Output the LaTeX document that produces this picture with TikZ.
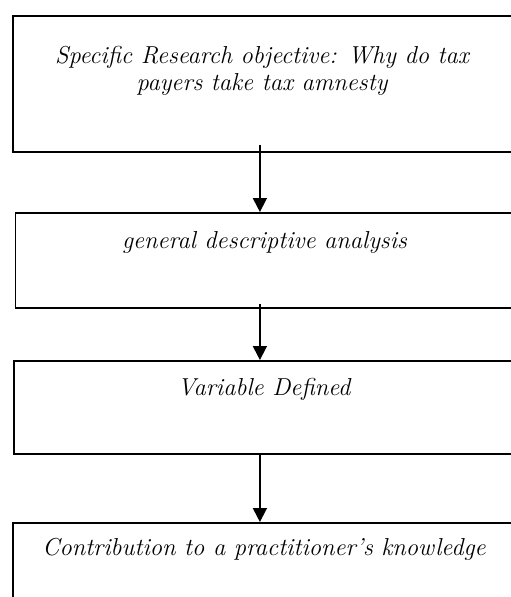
\documentclass[tikz,border=0pt]{standalone}
\usetikzlibrary{arrows.meta,positioning}

\tikzset{
  stagebox/.style={draw, line width=1.8pt, anchor=north west, inner sep=0pt},
  stagetext/.style={anchor=base, font=\fontsize{24.5}{27}\selectfont\itshape, align=center, inner sep=0pt},
  flow/.style={-{Triangle[length=14pt,width=14pt]}, line width=1.8pt}
}

\begin{document}
\begin{tikzpicture}[x=1pt, y=-1pt]
        \useasboundingbox (0,0) rectangle (511,597);
        \clip (0,0) rectangle (511,597);

        \node[stagebox, minimum width=500pt, minimum height=136pt] (obj) at (12,15) {};
        \node[stagebox, minimum width=500pt, minimum height=95pt] (gda) at (14.5,212) {};
        \node[stagebox, minimum width=502pt, minimum height=93pt] (var) at (13,360) {};
        \node[stagebox, minimum width=504pt, minimum height=110pt] (con) at (12,522) {};

        % two lines: base anchor sits on the last line
        \node[stagetext] (objtext) at (262,90) {Specific Research objective: Why do tax\\payers take tax amnesty};
        \node[stagetext] (gdatext) at (264.5,248) {general descriptive analysis};
        \node[stagetext] (vartext) at (264,395) {Variable Defined};
        \node[stagetext] (context) at (264,555) {Contribution to a practitioner's knowledge};

        \draw[flow] ([xshift=-3pt, yshift=8pt]obj.south) -- ([xshift=-5.5pt]gda.north);
        \draw[flow] ([xshift=-5.5pt, yshift=5pt]gda.south) -- ([xshift=-5pt]var.north);
        \draw[flow] ([xshift=-5pt]var.south) -- ([xshift=-5pt]con.north);
      \end{tikzpicture}
\end{document}
